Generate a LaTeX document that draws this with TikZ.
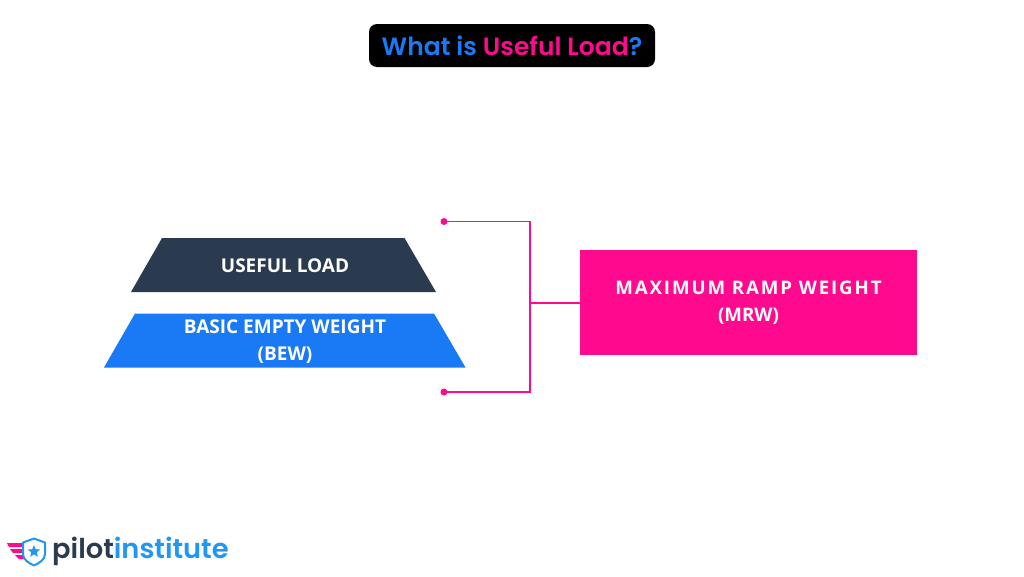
\documentclass[tikz,border=0pt]{standalone}
\usepackage{fontspec}
\setmainfont{Open Sans}
\newfontfamily\popfont{Poppins}[BoldFont=* SemiBold]
\usepackage{xcolor}
\usetikzlibrary{positioning,shapes.geometric,calc}
\definecolor{brandblue}{HTML}{1A7AF5}
\definecolor{brandpink}{HTML}{FF0A8F}
\definecolor{brandnavy}{HTML}{2A3B50}
\definecolor{logoblue}{HTML}{2196F3}

\begin{document}
\begin{tikzpicture}[
    x=1pt, y=-1pt,
    layer/.style={inner sep=0pt, text=white, align=center, font=\fontsize{19}{27}\selectfont\bfseries},
    total/.style={rectangle, fill=brandpink, text=white, inner sep=0pt, minimum width=337pt, minimum height=105pt, align=center, font=\fontsize{18.7}{27}\selectfont\bfseries},
    bracket/.style={brandpink, line width=1.5pt},
    tipdot/.style={circle, fill=brandpink, inner sep=0pt, minimum size=7pt}
]
    \useasboundingbox (0,0) rectangle (1024,576);

    \node[fill=black, rounded corners=8pt, minimum width=286pt, minimum height=43pt, inner sep=0pt, font=\popfont\fontsize{25}{28}\selectfont\bfseries] (title) at (512,45.5) {\textcolor{brandblue}{What is} \textcolor{brandpink}{Useful Load}\textcolor{brandblue}{?}};

    \fill[brandnavy] (162,238) -- (404.5,238) -- (436,292) -- (131,292) -- cycle;
    \fill[brandblue] (135,313.5) -- (434,313.5) -- (465.5,367.5) -- (104,367.5) -- cycle;
    \node[layer] (useful) at (285,266) {USEFUL LOAD};
    \node[layer] (bew) at (285,342) {BASIC EMPTY WEIGHT\\(BEW)};
    \node[total] (mrw) at (748.5,302.5) {\addfontfeature{LetterSpace=10}MAXIMUM RAMP WEIGHT\\(MRW)};

    \node[tipdot] (topdot) at (444,221.5) {};
    \node[tipdot] (botdot) at (444,392) {};
    \coordinate (join) at (530,303);

    \draw[bracket] (topdot.center) -| (join) |- (botdot.center);
    \draw[bracket] (join) -- (mrw.west |- join);

    % logo
    \fill[brandpink] (7,543) -- (26,543) -- (26,547) -- (9,547) -- cycle;
    \fill[brandpink] (10,549) -- (26,549) -- (26,553) -- (13,553) -- cycle;
    \fill[brandpink] (15,555) -- (28,555) -- (30,559) -- (19,559) -- cycle;
    \draw[logoblue, line width=2pt, fill=white, line join=round] (34,538.5) -- (45,542.5) -- (45,554) .. controls (45,560) and (39,563) .. (34,565.5) .. controls (29,563) and (23,560) .. (23,554) -- (23,542.5) -- cycle;
    \node[star, star points=5, star point ratio=2.3, fill=logoblue, inner sep=0pt, minimum size=13pt] (logostar) at (34,551.5) {};
    \node[anchor=base west, inner sep=0pt, font=\popfont\fontsize{27.3}{30}\selectfont\bfseries] (logotext) at (52,558) {\textcolor{brandnavy}{pilot}\textcolor{logoblue}{institute}};
\end{tikzpicture}
\end{document}
